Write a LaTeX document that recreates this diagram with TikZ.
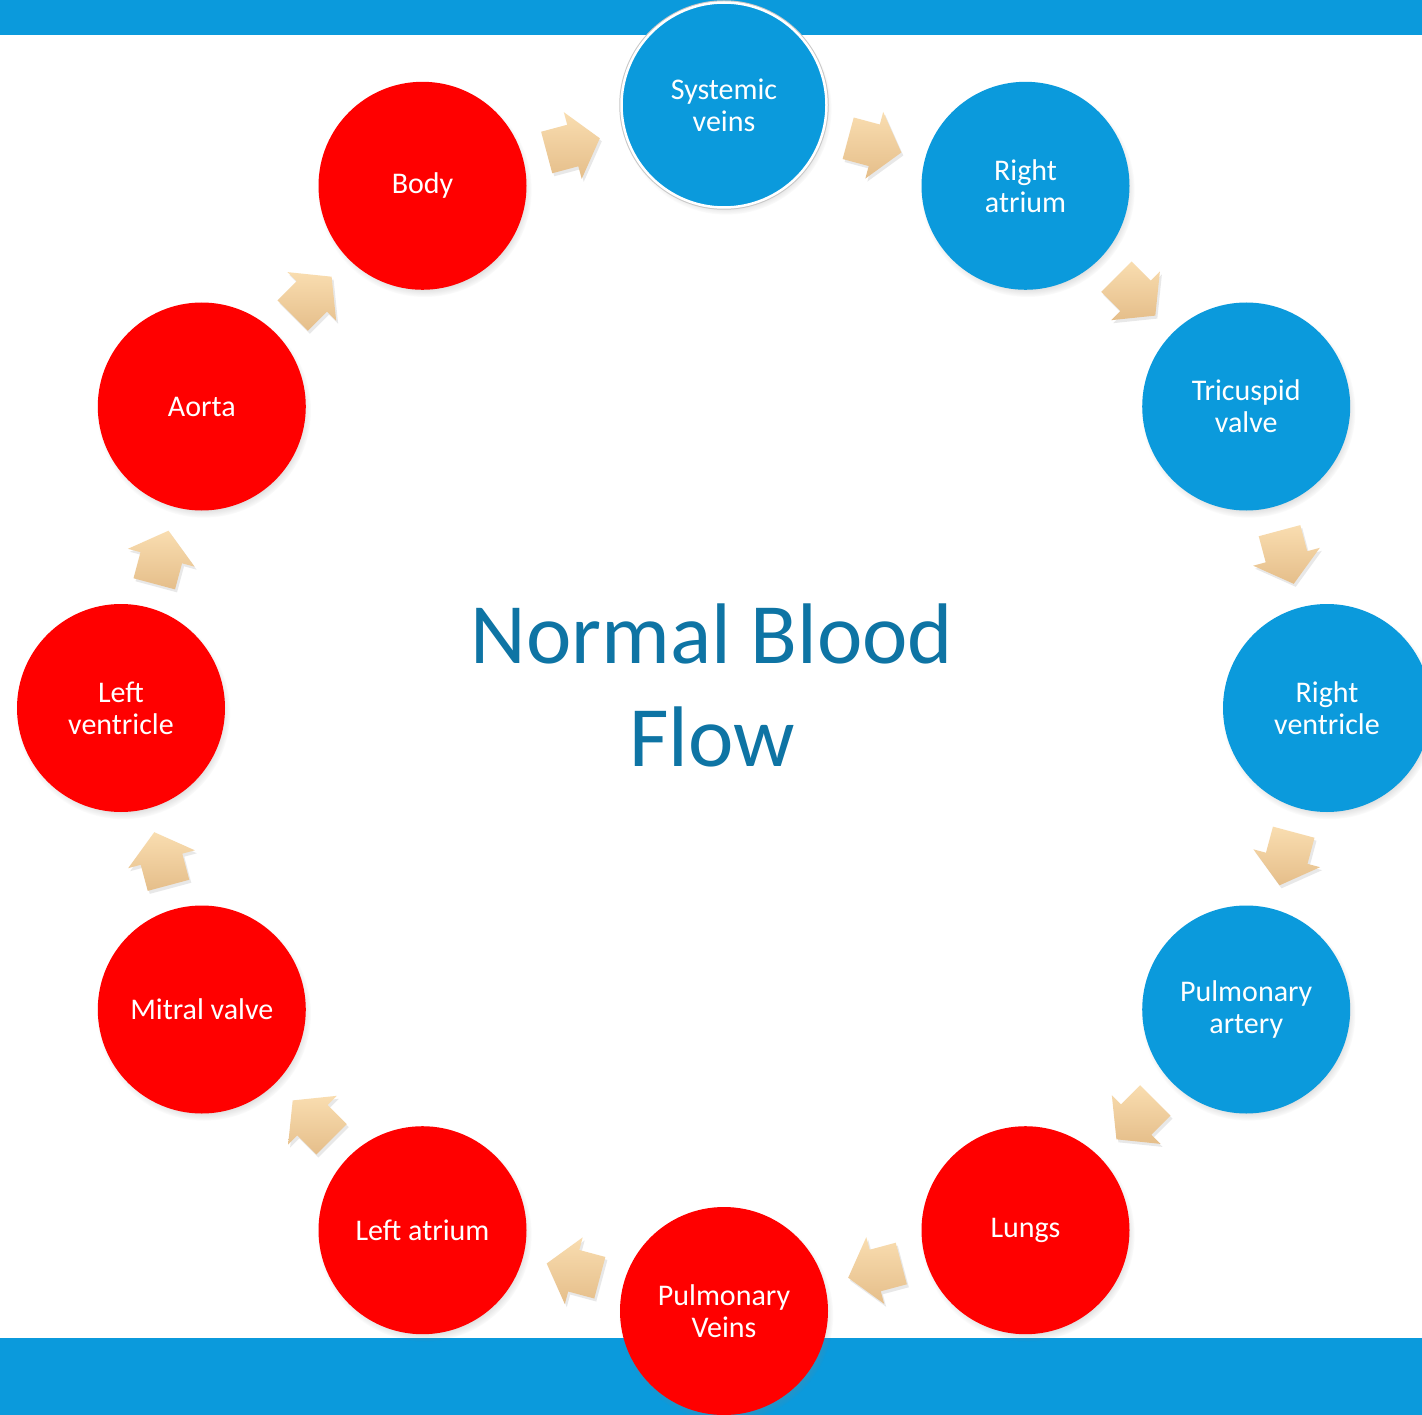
\documentclass[tikz,border=0pt]{standalone}
\usepackage{fontspec}
\setmainfont{Carlito}
\usetikzlibrary{calc,shadows}
\definecolor{barblue}{RGB}{11,154,220}
\definecolor{circblue}{RGB}{11,154,220}
\definecolor{circred}{RGB}{255,0,0}
\definecolor{titleblue}{RGB}{14,116,164}
\definecolor{arrtop}{RGB}{249,221,176}
\definecolor{arrbot}{RGB}{229,190,138}
\tikzset{
  stage/.style={circle, minimum size=208pt, inner sep=0pt, text=white, align=center,
    font=\fontsize{30}{32}\selectfont,
    circular drop shadow={shadow xshift=2pt, shadow yshift=-4pt, shadow scale=1.03, opacity=0.45}},
  bluestage/.style={stage, fill=circblue},
  redstage/.style={stage, fill=circred},
  arrowfill/.style={top color=arrtop, bottom color=arrbot,
    drop shadow={shadow xshift=2pt, shadow yshift=-3pt, opacity=0.18}},
}
\newcommand\blockarrow[2]{%
  \shade[arrowfill] ($(#1)+(#2:-27.5)+(#2+90:21.5)$) -- ($(#1)+(#2:-0.5)+(#2+90:21.5)$)
    -- ($(#1)+(#2:-0.5)+(#2+90:34.5)$) -- ($(#1)+(#2:27.5)$)
    -- ($(#1)+(#2:-0.5)+(#2-90:34.5)$) -- ($(#1)+(#2:-0.5)+(#2-90:21.5)$)
    -- ($(#1)+(#2:-27.5)+(#2-90:21.5)$) -- cycle;}
\begin{document}
\begin{tikzpicture}[x=1pt,y=1pt]
\useasboundingbox (0,0) rectangle (1422,-1415);
\fill[white] (0,0) rectangle (1422,-1415);
\fill[barblue] (0,0) rectangle (1422,-35);
\fill[barblue] (0,-1338) rectangle (1422,-1415);
\coordinate (C) at (724,-708);
% title
\node[text=titleblue, font=\fontsize{86}{103}\selectfont, anchor=base] (title1) at (712,-663) {Normal Blood};
\node[text=titleblue, font=\fontsize{86}{103}\selectfont, anchor=base] (title2) at (712,-766) {Flow};
% stages
\node[bluestage, minimum size=205pt, draw=white, line width=2.5pt,
      preaction={draw=black!22, line width=4.5pt}] (sv) at ($(C)+(90:603)$) {Systemic\\veins};
\node[bluestage] (ra) at ($(C)+(60:603)$) {Right\\atrium};
\node[bluestage] (tv) at ($(C)+(30:603)$) {Tricuspid\\valve};
\node[bluestage] (rv) at ($(C)+(0:603)$) {Right\\ventricle};
\node[bluestage] (pa) at ($(C)+(-30:603)$) {Pulmonary\\artery};
\node[redstage] (lu) at ($(C)+(-60:603)$) {Lungs};
\node[redstage] (pv) at ($(C)+(-90:603)$) {Pulmonary\\Veins};
\node[redstage] (la) at ($(C)+(-120:603)$) {Left atrium};
\node[redstage] (mv) at ($(C)+(-150:603)$) {Mitral valve};
\node[redstage] (lv) at ($(C)+(180:603)$) {Left\\ventricle};
\node[redstage] (ao) at ($(C)+(150:603)$) {Aorta};
\node[redstage] (bo) at ($(C)+(120:603)$) {Body};
% arrows between consecutive stages
\coordinate (m1) at ($(sv)!0.5!(ra)$);
\coordinate (m2) at ($(ra)!0.5!(tv)$);
\coordinate (m3) at ($(tv)!0.5!(rv)$);
\coordinate (m4) at ($(rv)!0.5!(pa)$);
\coordinate (m5) at ($(pa)!0.5!(lu)$);
\coordinate (m6) at ($(lu)!0.5!(pv)$);
\coordinate (m7) at ($(pv)!0.5!(la)$);
\coordinate (m8) at ($(la)!0.5!(mv)$);
\coordinate (m9) at ($(mv)!0.5!(lv)$);
\coordinate (m10) at ($(lv)!0.5!(ao)$);
\coordinate (m11) at ($(ao)!0.5!(bo)$);
\coordinate (m12) at ($(bo)!0.5!(sv)$);
\blockarrow{m1}{-15}
\blockarrow{m2}{-45}
\blockarrow{m3}{-75}
\blockarrow{m4}{-105}
\blockarrow{m5}{-135}
\blockarrow{m6}{-165}
\blockarrow{m7}{-195}
\blockarrow{m8}{-225}
\blockarrow{m9}{-255}
\blockarrow{m10}{-285}
\blockarrow{m11}{-315}
\blockarrow{m12}{-345}
\end{tikzpicture}
\end{document}
